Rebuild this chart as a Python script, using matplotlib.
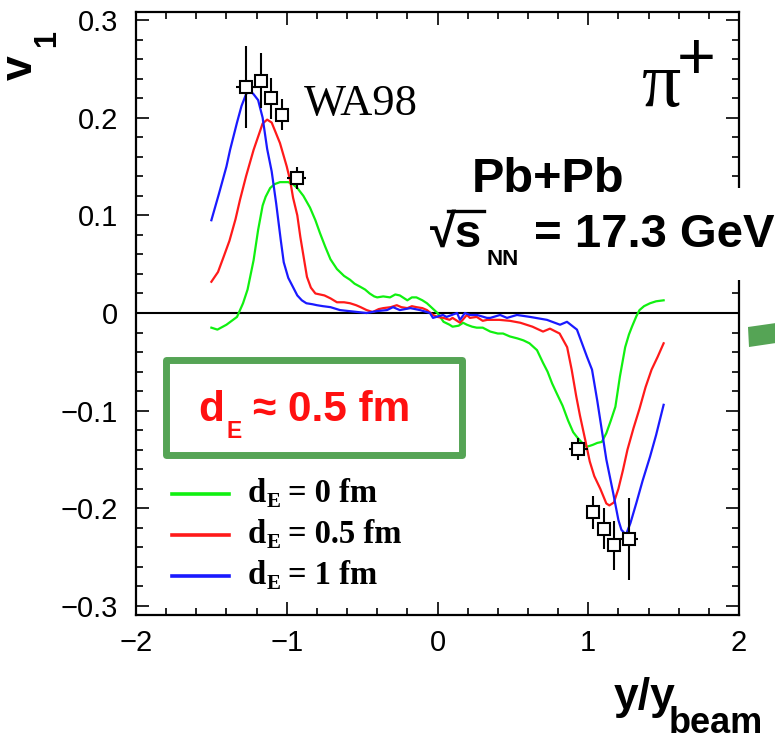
import matplotlib
matplotlib.use("Agg")
import matplotlib.pyplot as plt
from matplotlib.lines import Line2D
from matplotlib.patches import Rectangle, Polygon
from matplotlib.ticker import FixedLocator, MultipleLocator

plt.rcParams["font.family"] = ["Liberation Sans", "DejaVu Sans"]
SANS = ["Liberation Sans", "DejaVu Sans"]
SERIF = ["Liberation Serif", "DejaVu Serif"]

# ---- model curves: v1 versus y/y_beam for three source sizes d_E ----
rap_de0 = [-1.50, -1.46, -1.40, -1.33, -1.29, -1.26, -1.22, -1.19, -1.16, -1.14, -1.11, -1.08,
           -1.045, -0.99, -0.96, -0.93, -0.89, -0.846, -0.81, -0.78, -0.745, -0.71, -0.667,
           -0.62, -0.58, -0.55, -0.514, -0.48, -0.45, -0.42, -0.40, -0.36, -0.315, -0.28,
           -0.25, -0.22, -0.20, -0.17, -0.14, -0.10, -0.07, -0.035, 0.0, 0.04, 0.08, 0.10,
           0.14, 0.17, 0.195, 0.23, 0.26, 0.30, 0.35, 0.40, 0.435, 0.48, 0.53, 0.57, 0.61,
           0.66, 0.70, 0.73, 0.76, 0.79, 0.83, 0.866, 0.90, 0.925, 0.96, 0.99, 1.03, 1.06,
           1.09, 1.12, 1.15, 1.18, 1.21, 1.245, 1.27, 1.29, 1.32, 1.34, 1.37, 1.41, 1.45, 1.50]
v1_de0 = [-0.015, -0.017, -0.012, -0.004, 0.010, 0.024, 0.054, 0.085, 0.110, 0.119, 0.128, 0.132,
          0.134, 0.134, 0.132, 0.128, 0.120, 0.108, 0.095, 0.082, 0.068, 0.055, 0.045,
          0.038, 0.034, 0.030, 0.027, 0.024, 0.020, 0.017, 0.016, 0.017, 0.016, 0.019,
          0.018, 0.015, 0.013, 0.016, 0.016, 0.013, 0.010, 0.005, 0.000, -0.009, -0.012, -0.014,
          -0.013, -0.010, -0.012, -0.014, -0.015, -0.015, -0.019, -0.021, -0.021, -0.024, -0.026,
          -0.028, -0.031, -0.038, -0.051, -0.060, -0.072, -0.082, -0.095, -0.110, -0.122, -0.127,
          -0.133, -0.137, -0.135, -0.133, -0.132, -0.123, -0.110, -0.096, -0.065, -0.035, -0.022,
          -0.014, -0.003, 0.003, 0.007, 0.010, 0.012, 0.013]

rap_de05 = [-1.50, -1.456, -1.42, -1.38, -1.34, -1.31, -1.27, -1.22, -1.16, -1.13, -1.10, -1.045,
            -1.00, -0.978, -0.958, -0.93, -0.91, -0.88, -0.866, -0.84, -0.81, -0.78, -0.75,
            -0.71, -0.667, -0.62, -0.58, -0.54, -0.51, -0.47, -0.43, -0.39, -0.36, -0.31,
            -0.27, -0.24, -0.20, -0.17, -0.14, -0.10, -0.07, -0.03, 0.0, 0.04, 0.08, 0.10,
            0.15, 0.195, 0.215, 0.26, 0.30, 0.33, 0.41, 0.48, 0.55, 0.63, 0.70, 0.746, 0.81,
            0.86, 0.89, 0.92, 0.945, 0.98, 1.01, 1.04, 1.08, 1.12, 1.14, 1.17, 1.20, 1.23,
            1.26, 1.30, 1.34, 1.38, 1.42, 1.46, 1.50]
v1_de05 = [0.032, 0.042, 0.057, 0.074, 0.096, 0.116, 0.140, 0.167, 0.194, 0.198, 0.195, 0.174,
           0.150, 0.136, 0.118, 0.100, 0.078, 0.050, 0.037, 0.026, 0.020, 0.019, 0.018,
           0.015, 0.011, 0.011, 0.010, 0.008, 0.006, 0.003, 0.001, 0.004, 0.005, 0.006,
           0.008, 0.006, 0.005, 0.007, 0.006, 0.005, 0.003, -0.002, -0.004, -0.005, -0.007,
           -0.005, -0.010, -0.002, -0.005, -0.004, -0.008, -0.007, -0.007, -0.008, -0.010,
           -0.014, -0.019, -0.016, -0.021, -0.035, -0.058, -0.085, -0.105, -0.130, -0.152,
           -0.167, -0.180, -0.195, -0.197, -0.194, -0.180, -0.161, -0.140, -0.118, -0.098,
           -0.076, -0.058, -0.045, -0.031]

rap_de1 = [-1.50, -1.45, -1.40, -1.376, -1.33, -1.30, -1.27, -1.245, -1.22, -1.19, -1.16, -1.13,
           -1.10, -1.07, -1.04, -1.02, -0.99, -0.96, -0.93, -0.90, -0.87, -0.83, -0.80, -0.76,
           -0.71, -0.647, -0.53, -0.47, -0.40, -0.335, -0.295, -0.25, -0.18, -0.116, -0.05,
           -0.030, 0.036, 0.06, 0.13, 0.149, 0.182, 0.215, 0.262, 0.328, 0.35, 0.415, 0.461,
           0.527, 0.614, 0.726, 0.813, 0.859, 0.925, 0.992, 1.025, 1.06, 1.09, 1.12, 1.165,
           1.20, 1.22, 1.25, 1.28, 1.32, 1.36, 1.41, 1.45, 1.50]
v1_de1 = [0.095, 0.122, 0.150, 0.167, 0.195, 0.212, 0.224, 0.228, 0.224, 0.218, 0.200, 0.168,
          0.145, 0.112, 0.075, 0.052, 0.036, 0.027, 0.018, 0.013, 0.010, 0.009, 0.008, 0.007,
          0.006, 0.003, 0.001, 0.000, 0.002, 0.003, 0.006, 0.003, 0.005, 0.003, 0.000,
          -0.005, -0.002, -0.004, 0.000, -0.007, 0.000, -0.002, -0.002, -0.005, -0.005, -0.002,
          -0.005, -0.002, -0.004, -0.007, -0.012, -0.009, -0.017, -0.045, -0.058, -0.090,
          -0.120, -0.150, -0.184, -0.212, -0.222, -0.227, -0.215, -0.194, -0.172, -0.147,
          -0.125, -0.094]

de_labels = ["0", "0.5", "1"]
de_colors = ["#10f010", "#ff1a1a", "#1a1aff"]
curves = [(rap_de0, v1_de0), (rap_de05, v1_de05), (rap_de1, v1_de1)]

# ---- WA98 measurements ----
wa98_rap = [-1.272, -1.171, -1.104, -1.034, -0.934, 0.934, 1.034, 1.104, 1.171, 1.272]
wa98_v1 = [0.231, 0.238, 0.220, 0.203, 0.138, -0.139, -0.204, -0.221, -0.238, -0.231]
wa98_v1_err = [0.042, 0.028, 0.021, 0.016, 0.011, 0.011, 0.017, 0.021, 0.025, 0.042]
wa98_rap_err = [0.065, 0.03, 0.03, 0.03, 0.065, 0.065, 0.03, 0.03, 0.03, 0.060]

# ---- axis ticks ----
x_ticks = [-2, -1, 0, 1, 2]
x_tick_labels = ["\u22122", "\u22121", "0", "1", "2"]
y_ticks = [-0.3, -0.2, -0.1, 0.0, 0.1, 0.2, 0.3]
y_tick_labels = ["\u22120.3", "\u22120.2", "\u22120.1", "0", "0.1", "0.2", "0.3"]

W, H = 775, 748
fig = plt.figure(figsize=(W / 100, H / 100), dpi=100)
fig.patch.set_facecolor("white")


def fx(px):
    return px / W


def fy(py):
    return 1 - py / H


ax = fig.add_axes([fx(136), fy(615), (739 - 136) / W, (615 - 12) / H])
ax.set_xlim(-2, 2)
ax.set_ylim(-0.3092, 0.3082)

ax.axhline(0, color="black", lw=1.5, zorder=1)
for (xs, ys), c in zip(curves, de_colors):
    ax.plot(xs, ys, color=c, lw=1.6, zorder=2)

ax.errorbar(wa98_rap, wa98_v1, yerr=wa98_v1_err, xerr=wa98_rap_err, fmt="s",
            ms=8.6, mfc="white", mec="black", mew=1.5, ecolor="black",
            elinewidth=1.5, capsize=0, zorder=5)

ax.xaxis.set_major_locator(FixedLocator(x_ticks))
ax.set_xticklabels(x_tick_labels)
ax.xaxis.set_minor_locator(MultipleLocator(0.2))
ax.yaxis.set_major_locator(FixedLocator(y_ticks))
ax.set_yticklabels(y_tick_labels)
ax.yaxis.set_minor_locator(MultipleLocator(0.02))
ax.tick_params(which="both", direction="in", top=True, right=True, width=1.2,
               labelsize=21)
ax.tick_params(which="major", length=9.5)
ax.tick_params(which="minor", length=4.8)
ax.tick_params(axis="x", pad=10)
ax.tick_params(axis="y", pad=13)
for sp in ax.spines.values():
    sp.set_linewidth(1.6)

# axis titles
fig.text(fx(32), fy(80), "v", rotation=90, rotation_mode="anchor", ha="left",
         va="baseline", fontsize=32, fontweight="bold", family=SANS)
fig.text(fx(55), fy(47), "1", rotation=90, rotation_mode="anchor", ha="left",
         va="baseline", fontsize=22, fontweight="bold", family=SANS)
fig.text(fx(614), fy(709), "y/y", ha="left", va="baseline", fontsize=32,
         fontweight="bold", family=SANS)
fig.text(fx(669), fy(733), "beam", ha="left", va="baseline", fontsize=26,
         fontweight="bold", family=SANS)

# annotations
fig.text(fx(304), fy(115), "WA98", ha="left", va="baseline", fontsize=32, family=SERIF)
fig.text(fx(662), fy(106), "\u03c0", ha="center", va="baseline", fontsize=56, family=SERIF)
fig.text(fx(696), fy(79), "+", ha="center", va="baseline", fontsize=48, family=SANS)
fig.text(fx(548), fy(192), "Pb+Pb", ha="center", va="baseline", fontsize=35,
         fontweight="bold", family=SANS)

fig.add_artist(Rectangle((fx(425), fy(280)), fx(775) - fx(425), fy(188) - fy(280),
                         transform=fig.transFigure, facecolor="white", edgecolor="none",
                         zorder=3))
fig.text(fx(430), fy(247), "\u221as", ha="left", va="baseline", fontsize=34,
         fontweight="bold", family=SANS, zorder=5)
fig.add_artist(Line2D([fx(448), fx(484)], [fy(211), fy(211)], transform=fig.transFigure,
                      color="black", lw=2.4, zorder=5))
fig.text(fx(486), fy(265), "NN", ha="left", va="baseline", fontsize=16,
         fontweight="bold", family=SANS, zorder=5)
fig.text(fx(774), fy(247), "= 17.3 GeV", ha="right", va="baseline", fontsize=34,
         fontweight="bold", family=SANS, zorder=5)

# highlighted box with the preferred source size
box_green = "#55a455"
fig.add_artist(Rectangle((fx(165.5), fy(454.5)), fx(461.5) - fx(165.5),
                         fy(359.5) - fy(454.5), transform=fig.transFigure,
                         facecolor="white", edgecolor=box_green, lw=5,
                         joinstyle="round", zorder=4))
fig.text(fx(198), fy(421), "d", ha="left", va="baseline", fontsize=30.5,
         fontweight="bold", color="#ff1010", family=SANS, zorder=5)
fig.text(fx(226), fy(438), "E", ha="left", va="baseline", fontsize=16.5,
         fontweight="bold", color="#ff1010", family=SANS, zorder=5)
fig.text(fx(253), fy(421), "\u2248 0.5 fm", ha="left", va="baseline", fontsize=30.5,
         fontweight="bold", color="#ff1010", family=SANS, zorder=5)

# arrow piece entering from the right edge
fig.add_artist(Polygon([(fx(748), fy(327)), (fx(776), fy(323)), (fx(776), fy(343)),
                        (fx(749), fy(347))], closed=True, transform=fig.transFigure,
                       facecolor=box_green, edgecolor="none", zorder=4))

# legend
for i, (lab, c) in enumerate(zip(de_labels, de_colors)):
    base = 502 + 41 * i
    fig.add_artist(Line2D([fx(172), fx(229)], [fy(base - 8), fy(base - 8)],
                          transform=fig.transFigure, color=c, lw=2.6, zorder=5))
    fig.text(fx(248), fy(base), "d", ha="left", va="baseline", fontsize=23.5,
             fontweight="bold", family=SERIF, zorder=5)
    fig.text(fx(267), fy(base + 5), "E", ha="left", va="baseline", fontsize=15,
             fontweight="bold", family=SERIF, zorder=5)
    fig.text(fx(288), fy(base), f"= {lab} fm", ha="left", va="baseline", fontsize=23.5,
             fontweight="bold", family=SERIF, zorder=5)

fig.savefig("out.png", dpi=100, facecolor="white")
